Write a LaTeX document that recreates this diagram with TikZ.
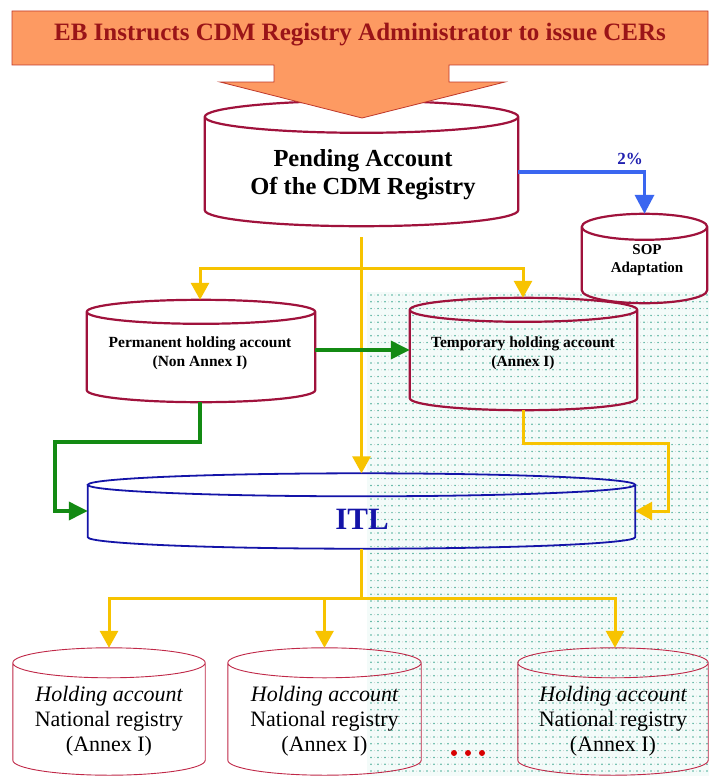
\documentclass[tikz,border=0pt]{standalone}
\usepackage{fontspec}
\setmainfont{Liberation Serif}
\usetikzlibrary{arrows.meta,calc}
\definecolor{bannerfill}{HTML}{FD9A62}
\definecolor{bannerline}{HTML}{C0392B}
\definecolor{bannertext}{HTML}{9A1418}
\definecolor{cylred}{HTML}{A0123C}
\definecolor{cylthin}{HTML}{C02848}
\definecolor{itlblue}{HTML}{1414A8}
\definecolor{yel}{HTML}{F7C300}
\definecolor{grn}{HTML}{138A13}
\definecolor{blu}{HTML}{3A66F0}
\definecolor{pct}{HTML}{2020B0}
\definecolor{dotc}{HTML}{4FAF9A}
\definecolor{dotbg}{HTML}{F3FBF9}
\newcommand\cylout[3]{%
  \draw[#3] let \p1=(#1.north west), \p2=(#1.south east), \n1={(\x2-\x1)/2} in
    (#1.north) ellipse[x radius=\n1, y radius=#2pt]
    (\p1) -- (\x1,\y2) arc[start angle=180, end angle=360, x radius=\n1, y radius=#2pt] -- (\x2,\y1);
}
\begin{document}
\begin{tikzpicture}[x=1pt,y=-1pt,
  body/.style={draw=none, inner sep=0pt, minimum width=#1},
  thick cyl/.style={draw=cylred, line width=2.2pt},
  thin cyl/.style={draw=cylthin, line width=0.9pt},
  itl cyl/.style={draw=itlblue, line width=1.8pt},
  yarrow/.style={draw=yel, line width=3pt, -{Triangle[length=17pt,width=18pt]}},
  yline/.style={draw=yel, line width=3pt},
  garrow/.style={draw=grn, line width=3.5pt, -{Triangle[length=19pt,width=18pt]}},
  barrow/.style={draw=blu, line width=3.5pt, -{Triangle[length=19pt,width=19pt]}},
  bigtxt/.style={font=\bfseries\fontsize{24.5}{28}\selectfont, align=center},
  midtxt/.style={font=\bfseries\fontsize{15.5}{19}\selectfont, align=center},
  soptxt/.style={font=\bfseries\fontsize{15}{18}\selectfont, align=center},
  lowtxt/.style={font=\fontsize{22}{25}\selectfont, align=center},
]
\useasboundingbox (0,0) rectangle (709,776);
\fill[white] (0,0) rectangle (709,776);
% dotted background region
\fill[dotbg] (367,292) rectangle (709,776);
\foreach \j in {0,...,70} {
  \fill[gray!40] foreach \i in {0,...,48} { ({374.5+7*\i},{295+6.8*\j}) circle[radius=0.5pt] };
  \fill[dotc] foreach \i in {0,...,48} { ({371+7*\i},{295+6.8*\j}) circle[radius=0.85pt] };
}

% bodies
\node[body=313pt, minimum height=93pt] (pending) at (361.5,163.5) {};
\node[body=125pt, minimum height=63pt] (sop) at (644.5,258.5) {};
\node[body=228pt, minimum height=78pt] (perm) at (201,351) {};
\node[body=227pt, minimum height=88pt] (temp) at (523.5,354) {};
\node[body=547pt, minimum height=52pt] (itl) at (361.5,511) {};
\node[body=192pt, minimum height=97pt] (c1) at (109,711.5) {};
\node[body=193pt, minimum height=97pt] (c2) at (324.5,711.5) {};
\node[body=190pt, minimum height=97pt] (c3) at (613,711.5) {};

\cylout{pending}{16}{thick cyl}
\cylout{sop}{13}{thick cyl}
\cylout{perm}{12}{thick cyl}
\cylout{temp}{12}{thick cyl}
\cylout{itl}{11.5}{itl cyl}
\cylout{c1}{15}{thin cyl}
\cylout{c2}{15}{thin cyl}
\cylout{c3}{15}{thin cyl}

% banner with arrow
\filldraw[fill=bannerfill, draw=bannerline, line width=0.8pt]
  (12,11) -- (708,11) -- (708,65) -- (449,65) -- (449,82) -- (505,82) -- (362,118)
  -- (220,82) -- (274,82) -- (274,65) -- (12,65) -- cycle;
\node[font=\bfseries\fontsize{25}{28}\selectfont, text=bannertext] (banner) at (360,35)
  {EB Instructs CDM Registry Administrator to issue CERs};

% texts
\node[bigtxt] (pendingt) at (363,175) {Pending Account\\Of the CDM Registry};
\node[soptxt] (sopt) at (647,260) {SOP\\Adaptation};
\node[midtxt] (permt) at (200,353) {Permanent holding account\\(Non Annex I)};
\node[midtxt] (tempt) at (523,353) {Temporary holding account\\(Annex I)};
\node[font=\bfseries\fontsize{31}{34}\selectfont, text=itlblue] (itlt) at (362,519) {ITL};
\node[lowtxt] (c1t) at (109,721) {\itshape Holding account\\National registry\\(Annex I)};
\node[lowtxt] (c2t) at (324.5,721) {\itshape Holding account\\National registry\\(Annex I)};
\node[lowtxt] (c3t) at (613,721) {\itshape Holding account\\National registry\\(Annex I)};

% blue 2% connector
\coordinate (bstart) at ($(pending.east)+(0,8.5)$);
\draw[barrow] (bstart) -| ([yshift=13pt]sop.north);
\node[font=\bfseries\fontsize{17}{19}\selectfont, text=pct] (pctl) at (630,159) {2\%};

% yellow from pending
\coordinate (tstart) at ([yshift=-27pt]pending.south);
\coordinate (b1) at (361.5,268);
\draw[yarrow] (tstart) -- ([yshift=11.5pt]itl.north);
\draw[yarrow] (b1) -| ([yshift=12pt,xshift=-1pt]perm.north);
\draw[yarrow] (b1) -| ([yshift=12pt,xshift=-0.5pt]temp.north);

% green connectors
\draw[garrow] (perm.east |- 0,350) -- (temp.west |- 0,350);
\draw[garrow] ([yshift=-12pt,xshift=-1pt]perm.south) |- (55,442) |- (itl.west);

% yellow from temporary to ITL
\draw[yarrow] ([yshift=-12pt,xshift=-0.5pt]temp.south) |- (668,443) |- (itl.east);

% yellow from ITL to national registries
\coordinate (b2) at (361.5,598);
\draw[yline] ([yshift=-11.5pt]itl.south) -- (b2);
\draw[yarrow] (b2) -| ([yshift=15pt]c1.north);
\draw[yarrow] (b2) -| ([yshift=15pt]c2.north);
\draw[yarrow] (b2) -| ([yshift=15pt,xshift=2pt]c3.north);

% ellipsis dots
\fill[red!85!black] (454,753) circle[radius=3pt] (468,753) circle[radius=3pt] (482,753) circle[radius=3pt];
\end{tikzpicture}
\end{document}
